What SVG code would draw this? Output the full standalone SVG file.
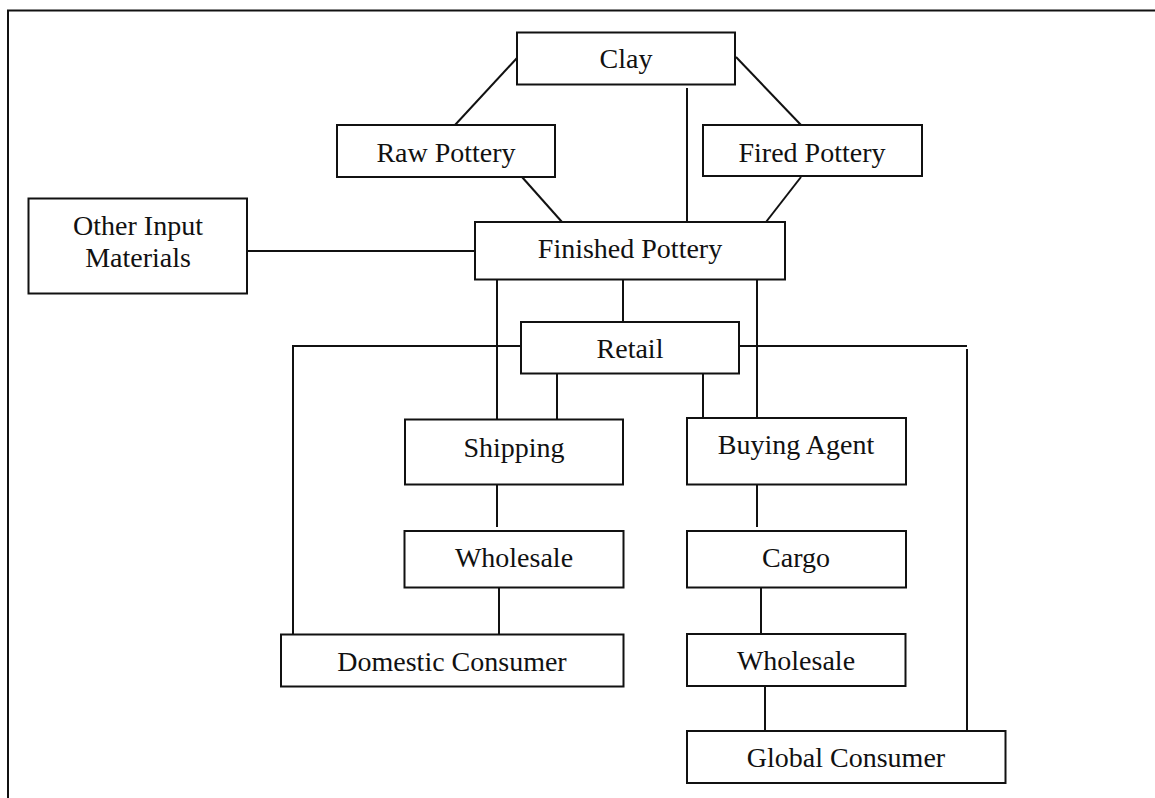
<svg xmlns="http://www.w3.org/2000/svg" width="1155" height="798" viewBox="0 0 1155 798">
<style>
.box{fill:#fff;stroke:#111;stroke-width:2}
.lbl{font-family:"Liberation Serif",serif;font-size:28px;fill:#111;text-anchor:middle}
.ln{stroke:#111;stroke-width:2;fill:none}
</style>
<rect x="0" y="0" width="1155" height="798" fill="#fff"/>
<rect x="8" y="10.5" width="1160" height="800" fill="none" stroke="#111" stroke-width="2"/>
<g id="connectors">
<line class="ln" x1="247" y1="251" x2="475" y2="251"/>
<line class="ln" x1="517" y1="58" x2="455" y2="125"/>
<line class="ln" x1="736" y1="57" x2="801" y2="125"/>
<line class="ln" x1="687" y1="88" x2="687" y2="222"/>
<line class="ln" x1="522" y1="177" x2="562" y2="222"/>
<line class="ln" x1="801" y1="177" x2="766" y2="222"/>
<line class="ln" x1="497" y1="279" x2="497" y2="419"/>
<line class="ln" x1="623" y1="279" x2="623" y2="322"/>
<line class="ln" x1="757" y1="279" x2="757" y2="418"/>
<polyline class="ln" points="521,346 293,346 293,634"/>
<line class="ln" x1="739" y1="346" x2="967" y2="346"/>
<line class="ln" x1="967" y1="349" x2="967" y2="731"/>
<line class="ln" x1="557" y1="373" x2="557" y2="419"/>
<line class="ln" x1="703" y1="373" x2="703" y2="418"/>
<line class="ln" x1="497" y1="484" x2="497" y2="527"/>
<line class="ln" x1="757" y1="484" x2="757" y2="527"/>
<line class="ln" x1="499" y1="587" x2="499" y2="634"/>
<line class="ln" x1="761" y1="587" x2="761" y2="634"/>
<line class="ln" x1="765" y1="686" x2="765" y2="731"/>
</g>
<g id="clay"><rect class="box" x="517" y="32.5" width="218" height="52"/><text class="lbl" x="626" y="68">Clay</text></g>
<g id="raw-pottery"><rect class="box" x="337" y="125" width="218" height="52"/><text class="lbl" x="446" y="161.5">Raw Pottery</text></g>
<g id="fired-pottery"><rect class="box" x="703" y="125" width="219" height="51"/><text class="lbl" x="812" y="161.5">Fired Pottery</text></g>
<g id="other-input"><rect class="box" x="28.5" y="198.5" width="218.5" height="95"/><text class="lbl" x="138" y="235">Other Input</text><text class="lbl" x="138" y="267">Materials</text></g>
<g id="finished-pottery"><rect class="box" x="475" y="222" width="310" height="57.5"/><text class="lbl" x="630" y="258">Finished Pottery</text></g>
<g id="retail"><rect class="box" x="521" y="322" width="218" height="51.5"/><text class="lbl" x="630" y="358">Retail</text></g>
<g id="shipping"><rect class="box" x="405" y="419.5" width="218" height="65"/><text class="lbl" x="514" y="456.5">Shipping</text></g>
<g id="buying-agent"><rect class="box" x="687" y="418" width="219" height="66.5"/><text class="lbl" x="796" y="454">Buying Agent</text></g>
<g id="wholesale-domestic"><rect class="box" x="404.5" y="531" width="219" height="56.5"/><text class="lbl" x="514" y="566.5">Wholesale</text></g>
<g id="cargo"><rect class="box" x="687" y="531" width="219" height="56.5"/><text class="lbl" x="796" y="566.5">Cargo</text></g>
<g id="domestic-consumer"><rect class="box" x="281" y="634.5" width="342.5" height="52"/><text class="lbl" x="452" y="671">Domestic Consumer</text></g>
<g id="wholesale-global"><rect class="box" x="687" y="634" width="218.5" height="52"/><text class="lbl" x="796" y="670">Wholesale</text></g>
<g id="global-consumer"><rect class="box" x="687" y="731" width="318.5" height="52"/><text class="lbl" x="846" y="766.5">Global Consumer</text></g>
</svg>
